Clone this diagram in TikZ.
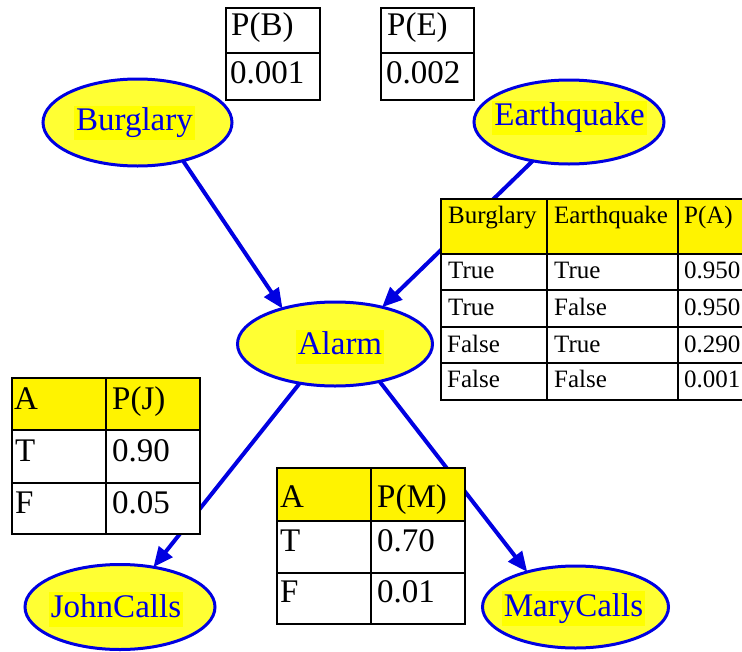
\documentclass[tikz,border=0pt]{standalone}
\usepackage{fontspec}
\setmainfont{Liberation Serif}
\usetikzlibrary{shapes.geometric,arrows.meta}
\definecolor{nodefill}{RGB}{255,255,51}
\definecolor{labelbg}{RGB}{255,255,0}
\definecolor{hdrfill}{RGB}{255,243,0}
\definecolor{netblue}{RGB}{0,0,225}

\begin{document}
\begin{tikzpicture}[x=1pt,y=-1pt,
  varnode/.style={ellipse,draw=netblue,line width=3pt,fill=nodefill,inner sep=0pt,outer sep=0pt},
  varlabel/.style={fill=labelbg,text=netblue,inner xsep=2pt,inner ysep=1.5pt,
    text height=23.5pt,text depth=8pt,font=\fontsize{33}{37}\selectfont},
  link/.style={draw=netblue,line width=4pt,-{Triangle[length=20pt,width=17pt]}},
  tblline/.style={draw=black,line width=2pt},
  hdr/.style={fill=hdrfill},
  rowbg/.style={fill=white},
  bigcell/.style={anchor=base west,inner sep=0pt,font=\fontsize{33}{37}\selectfont},
  cptcell/.style={anchor=base west,inner sep=0pt,font=\fontsize{25}{29}\selectfont}
]
\useasboundingbox (0,0) rectangle (742,651);
\clip (0,0) rectangle (742,651);

% --- network variables ---
\node[varnode,minimum width=189pt,minimum height=87pt] (burg)  at (137.5,122.5) {};
\node[varnode,minimum width=190pt,minimum height=84pt] (quake) at (569,122) {};
\node[varnode,minimum width=195pt,minimum height=84pt] (alarm) at (335,344) {};
\node[varnode,minimum width=190pt,minimum height=85pt] (john)  at (120,607) {};
\node[varnode,minimum width=186pt,minimum height=82pt] (mary)  at (575.5,607) {};

\node[varlabel] (burgtxt)  at (134.5,123)   {Burglary\hspace{13pt}};
\node[varlabel] (quaketxt) at (569.5,118)   {Earthquake\hspace{9pt}};
\node[varlabel] (alarmtxt) at (340,347)     {Alarm\hspace{10pt}};
\node[varlabel] (johntxt)  at (116,609.5)   {JohnCalls\hspace{10pt}};
\node[varlabel] (marytxt)  at (573.5,608.5) {MaryCalls\hspace{2pt}};

% --- causal links ---
\draw[link] (burg.-40)   -- (alarm.146);
\draw[link] (quake.-133) -- (alarm.38);
\draw[link] (alarm.-132) -- (john.50);
\draw[link] (alarm.-40)  -- (mary.144);

% --- prior tables ---
\draw[tblline,rowbg] (226,8) rectangle (320,100);
\draw[tblline] (226,53) -- (320,53);
\node[bigcell] (pbh) at (231,35) {P(B)};
\node[bigcell] (pbv) at (230,83) {0.001};

\draw[tblline,rowbg] (381,8) rectangle (474,100);
\draw[tblline] (381,53) -- (474,53);
\node[bigcell] (peh) at (387,35) {P(E)};
\node[bigcell] (pev) at (386,83) {0.002};

% --- CPT for Alarm ---
\fill[rowbg] (441,254) rectangle (760,400);
\fill[hdr] (441,199) rectangle (760,254);
\draw[tblline] (441,199) rectangle (760,400);
\foreach \yy in {254,290,327,363} \draw[tblline] (441,\yy) -- (760,\yy);
\foreach \xx in {547,678} \draw[tblline] (\xx,199) -- (\xx,400);
\node[cptcell] (ah1) at (448,223) {Burglary};
\node[cptcell] (ah2) at (554,223) {Earthquake};
\node[cptcell] (ah3) at (684,223) {P(A)};
\node[cptcell] (a11) at (448,278) {True};
\node[cptcell] (a12) at (554,278) {True};
\node[cptcell] (a13) at (684,278) {0.950};
\node[cptcell] (a21) at (448,315) {True};
\node[cptcell] (a22) at (554,315) {False};
\node[cptcell] (a23) at (684,315) {0.950};
\node[cptcell] (a31) at (447,352) {False};
\node[cptcell] (a32) at (554,352) {True};
\node[cptcell] (a33) at (684,352) {0.290};
\node[cptcell] (a41) at (447,387) {False};
\node[cptcell] (a42) at (554,387) {False};
\node[cptcell] (a43) at (684,387) {0.001};

% --- CPT for JohnCalls ---
\fill[rowbg] (12,430) rectangle (200,534);
\fill[hdr] (12,378) rectangle (200,430);
\draw[tblline] (12,378) rectangle (200,534);
\foreach \yy in {430,483} \draw[tblline] (12,\yy) -- (200,\yy);
\draw[tblline] (106,378) -- (106,534);
\node[bigcell] (jh1) at (14,409) {A};
\node[bigcell] (jh2) at (112,409) {P(J)};
\node[bigcell] (j11) at (15,461) {T};
\node[bigcell] (j12) at (112,461) {0.90};
\node[bigcell] (j21) at (15,513) {F};
\node[bigcell] (j22) at (112,513) {0.05};

% --- CPT for MaryCalls ---
\fill[rowbg] (277,521) rectangle (465,624);
\fill[hdr] (277,468) rectangle (465,521);
\draw[tblline] (277,468) rectangle (465,624);
\foreach \yy in {521,573} \draw[tblline] (277,\yy) -- (465,\yy);
\draw[tblline] (371,468) -- (371,624);
\node[bigcell] (mh1) at (280,507) {A};
\node[bigcell] (mh2) at (377,507) {P(M)};
\node[bigcell] (m11) at (280,551) {T};
\node[bigcell] (m12) at (377,551) {0.70};
\node[bigcell] (m21) at (280,602) {F};
\node[bigcell] (m22) at (377,602) {0.01};
\end{tikzpicture}
\end{document}
